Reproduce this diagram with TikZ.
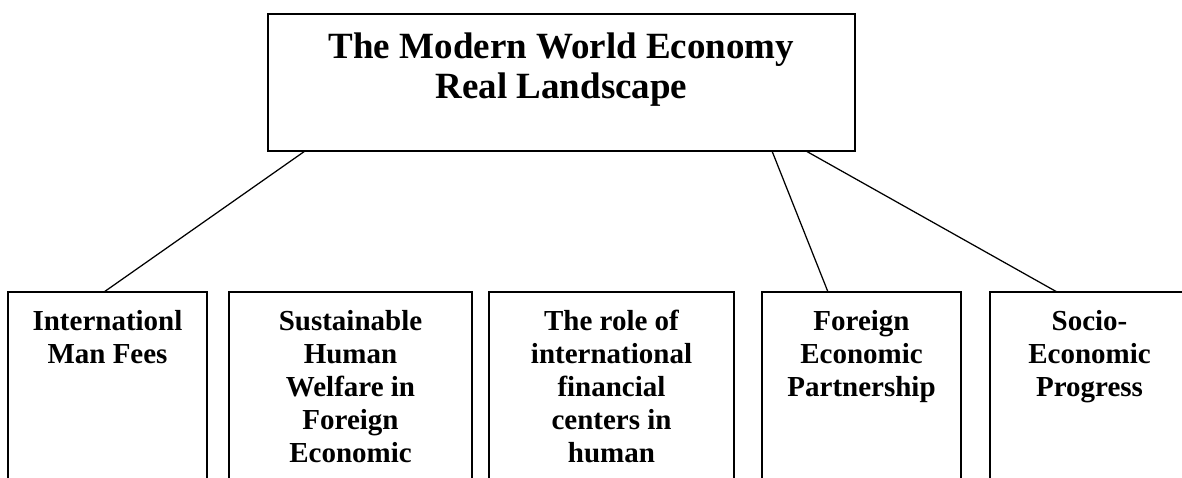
\documentclass[tikz,border=0pt]{standalone}
\usepackage{fontspec}
\setmainfont{Liberation Serif}
\begin{document}
\begin{tikzpicture}[x=1pt,y=-1pt,
  frame/.style={draw, line width=1.4pt, inner sep=0pt, outer sep=0pt},
  topbox/.style={frame, minimum width=587pt, minimum height=137pt},
  widebox/.style={frame, minimum width=#1, minimum height=208pt},
  toptext/.style={anchor=north, inner sep=0pt, align=center, font=\bfseries\fontsize{37}{40}\selectfont},
  boxtext/.style={anchor=north, inner sep=0pt, align=center, font=\bfseries\fontsize{29}{33}\selectfont},
  link/.style={line width=1.25pt}]
\clip (0,0) rectangle (1182,477);
\fill[white] (0,0) rectangle (1182,477);
% top box
\node[topbox] (top) at (561.5,82.5) {};
\node[toptext] (toplabel) at ([yshift=-19pt]top.north) {The Modern World Economy\\Real Landscape};
% bottom boxes
\node[widebox=199pt] (b1) at (107.5,396) {};
\node[widebox=243pt] (b2) at (350.5,396) {};
\node[widebox=245pt] (b3) at (611.5,396) {};
\node[widebox=199pt] (b4) at (861.5,396) {};
\node[widebox=199pt] (b5) at (1089.5,396) {};
\node[boxtext] (t1) at ([yshift=-18pt]b1.north) {Internationl\\Man Fees};
\node[boxtext] (t2) at ([yshift=-18pt]b2.north) {Sustainable\\Human\\Welfare in\\Foreign\\Economic};
\node[boxtext] (t3) at ([yshift=-18pt]b3.north) {The role of\\international\\financial\\centers in\\human};
\node[boxtext] (t4) at ([yshift=-18pt]b4.north) {Foreign\\Economic\\Partnership};
\node[boxtext] (t5) at ([yshift=-18pt]b5.north) {Socio-\\Economic\\Progress};
% connectors
\draw[link] ([xshift=37pt]top.south west) -- ([xshift=-3.5pt]b1.north);
\draw[link] ([xshift=-83pt]top.south east) -- ([xshift=66pt]b4.north west);
\draw[link] ([xshift=-49pt]top.south east) -- ([xshift=67pt]b5.north west);
\end{tikzpicture}
\end{document}
